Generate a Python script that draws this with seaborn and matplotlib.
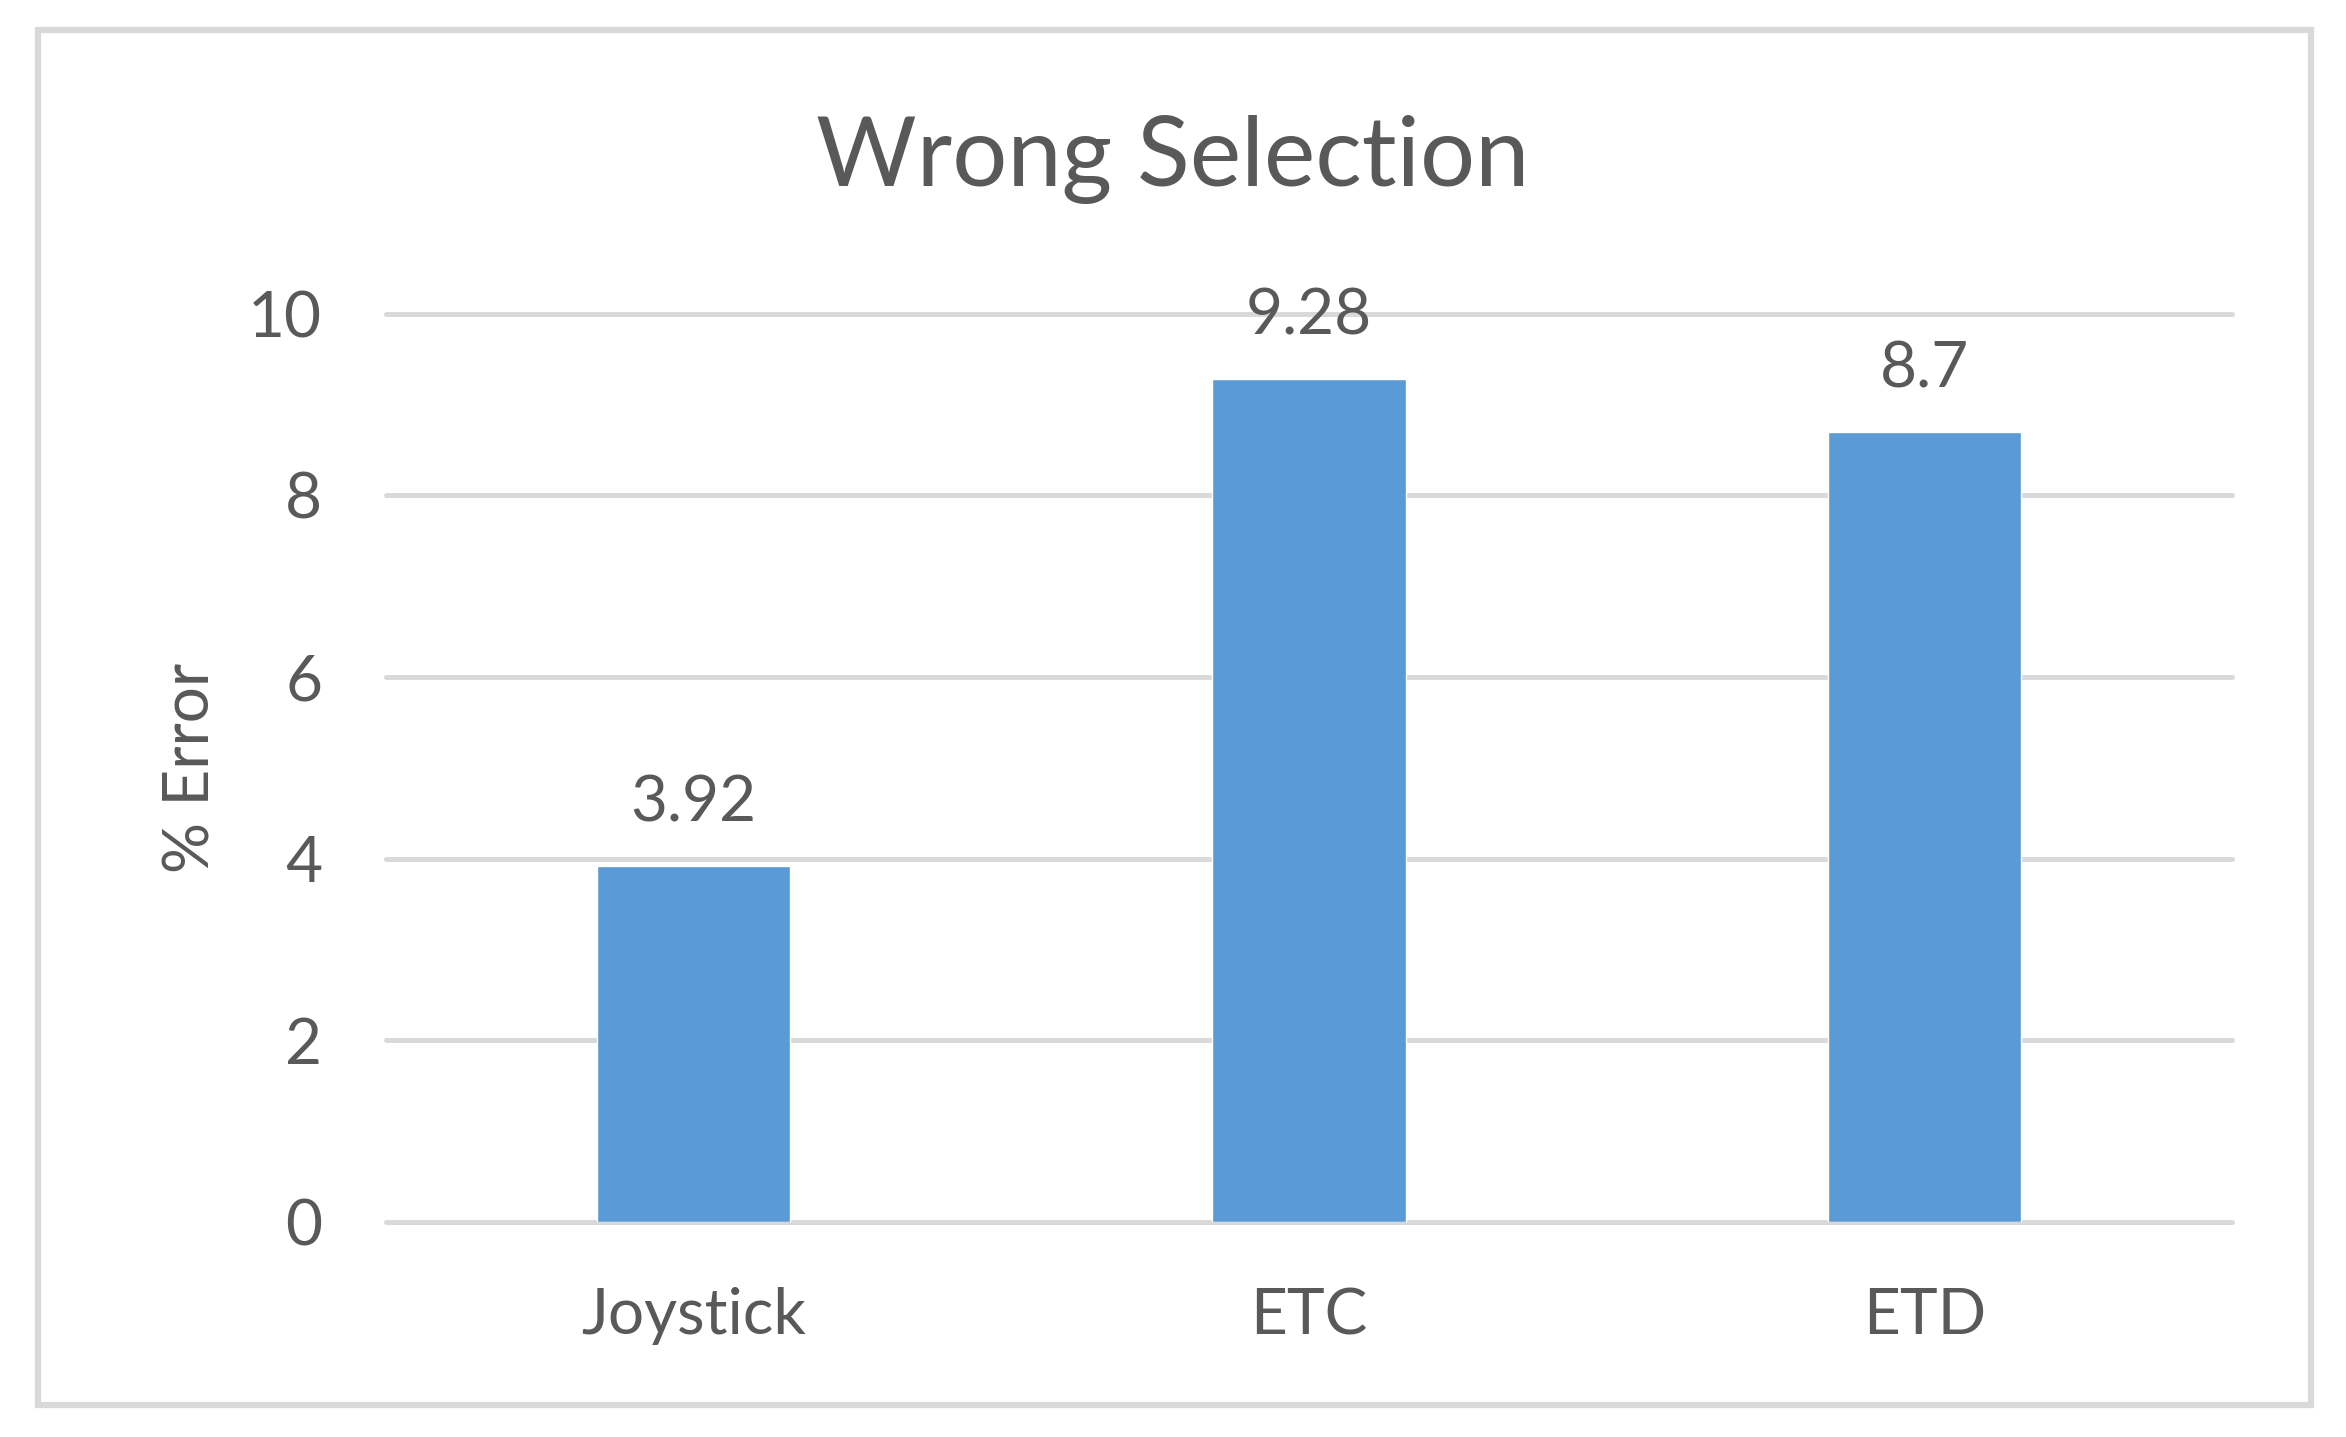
import matplotlib
matplotlib.use("Agg")
import matplotlib.pyplot as plt
import matplotlib.patches as mpatches
import pandas as pd
import seaborn as sns

# Chart data
categories = ["Joystick", "ETC", "ETD"]
error_pct = [3.92, 9.28, 8.7]
value_labels = ["3.92", "9.28", "8.7"]
y_ticks = [0, 2, 4, 6, 8, 10]

TEXT = "#595959"
GRID = "#D9D9D9"
BAR = "#5B9BD5"

sns.set_theme(style="white")
plt.rcParams["font.family"] = ["Lato", "DejaVu Sans"]

df = pd.DataFrame({"category": categories, "error": error_pct})

fig = plt.figure(figsize=(23.46, 14.37), dpi=100)
ax = fig.add_axes([0.1645, 0.1496, 0.787, 0.632])

sns.barplot(data=df, x="category", y="error", color=BAR, width=0.314,
            saturation=1, ax=ax, zorder=3)

ax.set_ylim(0, 10)
ax.set_yticks(y_ticks)
ax.set_xlim(-0.5, len(categories) - 0.5)

# Horizontal gridlines
for t in y_ticks:
    ax.axhline(t, color=GRID, lw=3.6, zorder=1, clip_on=False)

for s in ax.spines.values():
    s.set_visible(False)

ax.tick_params(axis="y", length=0, pad=46, labelsize=46, labelcolor=TEXT)
ax.tick_params(axis="x", length=0, pad=47, labelsize=46, labelcolor=TEXT)
ax.set_xlabel("")
ax.set_ylabel("% Error", fontsize=46, color=TEXT, labelpad=20)

# Value labels above bars
for i, (v, lab) in enumerate(zip(error_pct, value_labels)):
    ax.annotate(lab, xy=(i, v), xytext=(0, 24), textcoords="offset points",
                ha="center", va="bottom", fontsize=46, color=TEXT)

fig.text(0.5, 0.889, "Wrong Selection", ha="center", va="center",
         fontsize=70, color=TEXT)

# Outer chart border
fig.patches.append(mpatches.Rectangle((0.0162, 0.0223), 0.9688, 0.9567,
                                      transform=fig.transFigure, fill=False,
                                      edgecolor=GRID, lw=4.5))

fig.savefig("out.png", dpi=100)
